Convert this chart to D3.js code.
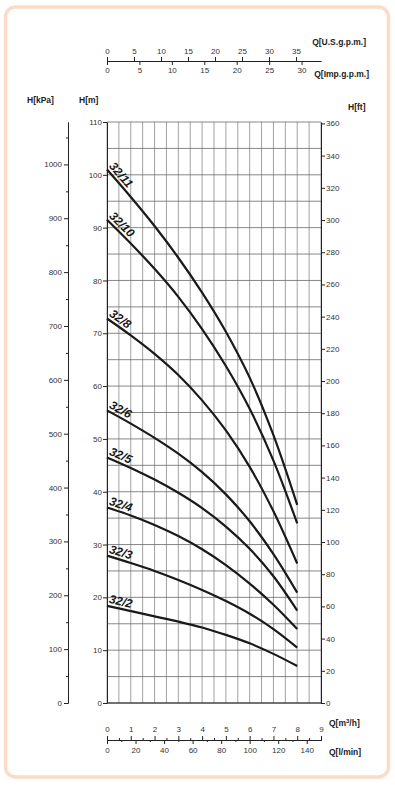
<!DOCTYPE html>
<html>
<head>
<meta charset="utf-8">
<script src="https://cdn.jsdelivr.net/npm/d3@7/dist/d3.min.js"></script>
<style>
  body { margin: 0; background: #fff; }
  svg { display: block; font-family: "Liberation Sans", Arial, sans-serif; }
  .tick text { font-size: 8px; fill: #333; }
  .title { font-size: 8.5px; font-weight: bold; fill: #222; }
</style>
</head>
<body>
<div class="canvas"></div>
<script>
// flow points, m3/h
const flows = [0, 1, 2, 3, 4, 5, 6, 7, 8];

// head in metres for every pump model
const head_32_11 = [101, 95.8, 90.3, 84.3, 77.7, 70.3, 61.6, 50.7, 37.5];
const head_32_10 = [91.5, 87, 82.2, 76.9, 70.8, 63.8, 55.7, 45.9, 34];
const head_32_8  = [72.8, 69.6, 66.1, 62.1, 57.3, 51.6, 44.7, 36.3, 26.4];
const head_32_6  = [55.4, 52.9, 50.2, 47.2, 43.7, 39.5, 34.4, 28.2, 20.9];
const head_32_5  = [46.5, 44.5, 42.3, 39.8, 36.9, 33.4, 29.2, 24, 17.5];
const head_32_4  = [37, 35.5, 33.7, 31.6, 29.1, 26.1, 22.6, 18.6, 14];
const head_32_3  = [27.9, 26.5, 25, 23.3, 21.4, 19.3, 16.9, 14, 10.5];
const head_32_2  = [18.4, 17.4, 16.4, 15.4, 14.3, 12.9, 11.3, 9.3, 7];

const models = ['32/11', '32/10', '32/8', '32/6', '32/5', '32/4', '32/3', '32/2'];
const heads = [head_32_11, head_32_10, head_32_8, head_32_6, head_32_5, head_32_4, head_32_3, head_32_2];

// tick labels
const mTicks = [0, 10, 20, 30, 40, 50, 60, 70, 80, 90, 100, 110];
const kpaTicks = [0, 100, 200, 300, 400, 500, 600, 700, 800, 900, 1000];
const ftTicks = [0, 20, 40, 60, 80, 100, 120, 140, 160, 180, 200, 220, 240, 260, 280, 300, 320, 340, 360];
const usTicks = [0, 5, 10, 15, 20, 25, 30, 35];
const impTicks = [0, 5, 10, 15, 20, 25, 30];
const m3hTicks = [0, 1, 2, 3, 4, 5, 6, 7, 8, 9];
const lminTicks = [0, 20, 40, 60, 80, 100, 120, 140];

const width = 395, height = 785;
const plot = { left: 107, right: 321, top: 122, bottom: 703 };

const svg = d3.select('.canvas')
  .append('svg')
  .attr('width', width)
  .attr('height', height);

svg.append('rect')
  .attr('x', 5.5).attr('y', 7)
  .attr('width', 383).attr('height', 770)
  .attr('rx', 10)
  .attr('fill', '#fff')
  .attr('stroke', '#fcdcc6')
  .attr('stroke-width', 3.5);

const x = d3.scaleLinear().domain([0, 9]).range([plot.left, plot.right]);
const y = d3.scaleLinear().domain([0, 110]).range([plot.bottom, plot.top]);
const kpa = d3.scaleLinear().domain([0, 110 * 9.80665]).range([plot.bottom, plot.top]);
const ft = d3.scaleLinear().domain([0, 110 / 0.3048]).range([plot.bottom, plot.top]);
const us = d3.scaleLinear().domain([0, 9 * 4.4029]).range([plot.left, plot.right]);
const imp = d3.scaleLinear().domain([0, 9 * 3.6662]).range([plot.left, plot.right]);
const lmin = d3.scaleLinear().domain([0, 150]).range([plot.left, plot.right]);

// grid
const grid = svg.append('g').attr('class', 'grid');
grid.selectAll('line.v')
  .data(d3.range(0, 9.01, 0.5))
  .enter().append('line')
    .attr('class', 'v')
    .attr('x1', d => x(d)).attr('x2', d => x(d))
    .attr('y1', plot.top).attr('y2', plot.bottom)
    .attr('stroke', '#8a8a8a')
    .attr('stroke-width', 0.8);
grid.selectAll('line.h')
  .data(d3.range(0, 110.1, 5))
  .enter().append('line')
    .attr('class', 'h')
    .attr('x1', plot.left).attr('x2', plot.right)
    .attr('y1', d => y(d)).attr('y2', d => y(d))
    .attr('stroke', '#6a6a6a')
    .attr('stroke-width', 0.8);

function styleAxis(g) {
  g.select('.domain').attr('stroke', '#222');
  g.selectAll('.tick line').attr('stroke', '#222');
}

// H[m] left axis
svg.append('g')
  .attr('transform', `translate(${plot.left},0)`)
  .call(d3.axisLeft(y).tickValues(mTicks).tickSize(4).tickSizeOuter(0).tickPadding(1))
  .call(styleAxis);

// H[kPa] axis
const kpaX = 68;
svg.append('g')
  .attr('transform', `translate(${kpaX},0)`)
  .call(d3.axisLeft(kpa).tickValues(d3.range(50, 1051, 100)).tickSize(2).tickSizeOuter(0).tickFormat(''))
  .call(styleAxis);
svg.append('g')
  .attr('transform', `translate(${kpaX},0)`)
  .call(d3.axisLeft(kpa).tickValues(kpaTicks).tickSize(4).tickSizeOuter(0).tickPadding(2).tickFormat(d3.format('d')))
  .call(styleAxis);

// H[ft] right axis
svg.append('g')
  .attr('transform', `translate(${plot.right},0)`)
  .call(d3.axisRight(ft).tickValues(ftTicks).tickSize(4).tickSizeOuter(0).tickPadding(1))
  .call(styleAxis);

// bottom frame line
svg.append('line')
  .attr('x1', plot.left).attr('x2', plot.right)
  .attr('y1', plot.bottom).attr('y2', plot.bottom)
  .attr('stroke', '#222');

// top flow scales
const topY = 61;
svg.append('g')
  .attr('transform', `translate(0,${topY})`)
  .call(d3.axisTop(us).tickValues(usTicks).tickSize(4).tickSizeOuter(0).tickPadding(3))
  .call(styleAxis);
svg.append('g')
  .attr('transform', `translate(0,${topY})`)
  .call(d3.axisBottom(imp).tickValues(impTicks).tickSize(4).tickSizeOuter(0).tickPadding(2))
  .call(styleAxis);

// bottom flow scales
const botY = 740;
svg.append('g')
  .attr('transform', `translate(0,${botY})`)
  .call(d3.axisTop(x).tickValues(d3.range(0.5, 9, 1)).tickSize(2).tickSizeOuter(0).tickFormat(''))
  .call(styleAxis);
svg.append('g')
  .attr('transform', `translate(0,${botY})`)
  .call(d3.axisTop(x).tickValues(m3hTicks).tickSize(4).tickSizeOuter(0).tickPadding(4))
  .call(styleAxis);
svg.append('g')
  .attr('transform', `translate(0,${botY})`)
  .call(d3.axisBottom(lmin).tickValues(d3.range(10, 150, 20)).tickSize(2).tickSizeOuter(0).tickFormat(''))
  .call(styleAxis);
svg.append('g')
  .attr('transform', `translate(0,${botY})`)
  .call(d3.axisBottom(lmin).tickValues(lminTicks).tickSize(4).tickSizeOuter(0).tickPadding(3))
  .call(styleAxis);

// titles
const titles = [
  { t: 'Q[U.S.g.p.m.]', x: 366, y: 45, a: 'end' },
  { t: 'Q[Imp.g.p.m.]', x: 369, y: 77, a: 'end' },
  { t: 'H[kPa]', x: 27, y: 103, a: 'start' },
  { t: 'H[m]', x: 79, y: 103, a: 'start' },
  { t: 'H[ft]', x: 348, y: 110, a: 'start' },
  { t: 'Q[l/min]', x: 329, y: 755, a: 'start' }
];
svg.selectAll('text.title')
  .data(titles)
  .enter().append('text')
    .attr('class', 'title')
    .attr('x', d => d.x).attr('y', d => d.y)
    .attr('text-anchor', d => d.a)
    .text(d => d.t);
svg.append('text')
  .attr('class', 'title')
  .attr('x', 329).attr('y', 726)
  .text('Q[m')
  .append('tspan').attr('font-size', '6px').attr('dy', -3).text('3')
  .select(function() { return this.parentNode; })
  .append('tspan').attr('dy', 3).text('/h]');

// pump curves
const line = d3.line()
  .curve(d3.curveCatmullRom)
  .x((d, i) => x(flows[i]))
  .y(d => y(d));

const curves = svg.append('g').attr('class', 'curves');
curves.selectAll('path')
  .data(heads)
  .enter().append('path')
    .attr('d', line)
    .attr('fill', 'none')
    .attr('stroke', '#1a1a1a')
    .attr('stroke-width', 2.2);

curves.selectAll('text')
  .data(models)
  .enter().append('text')
    .attr('transform', (d, i) => {
      const h = heads[i];
      const ang = Math.atan2(y(h[1]) - y(h[0]), x(flows[1]) - x(flows[0])) * 180 / Math.PI;
      return `translate(${x(0) + 1.5},${y(h[0]) - 3}) rotate(${ang})`;
    })
    .attr('font-size', '12px')
    .attr('font-weight', 'bold')
    .attr('font-style', 'italic')
    .attr('fill', '#1a1a1a')
    .text(d => d);
</script>
</body>
</html>
